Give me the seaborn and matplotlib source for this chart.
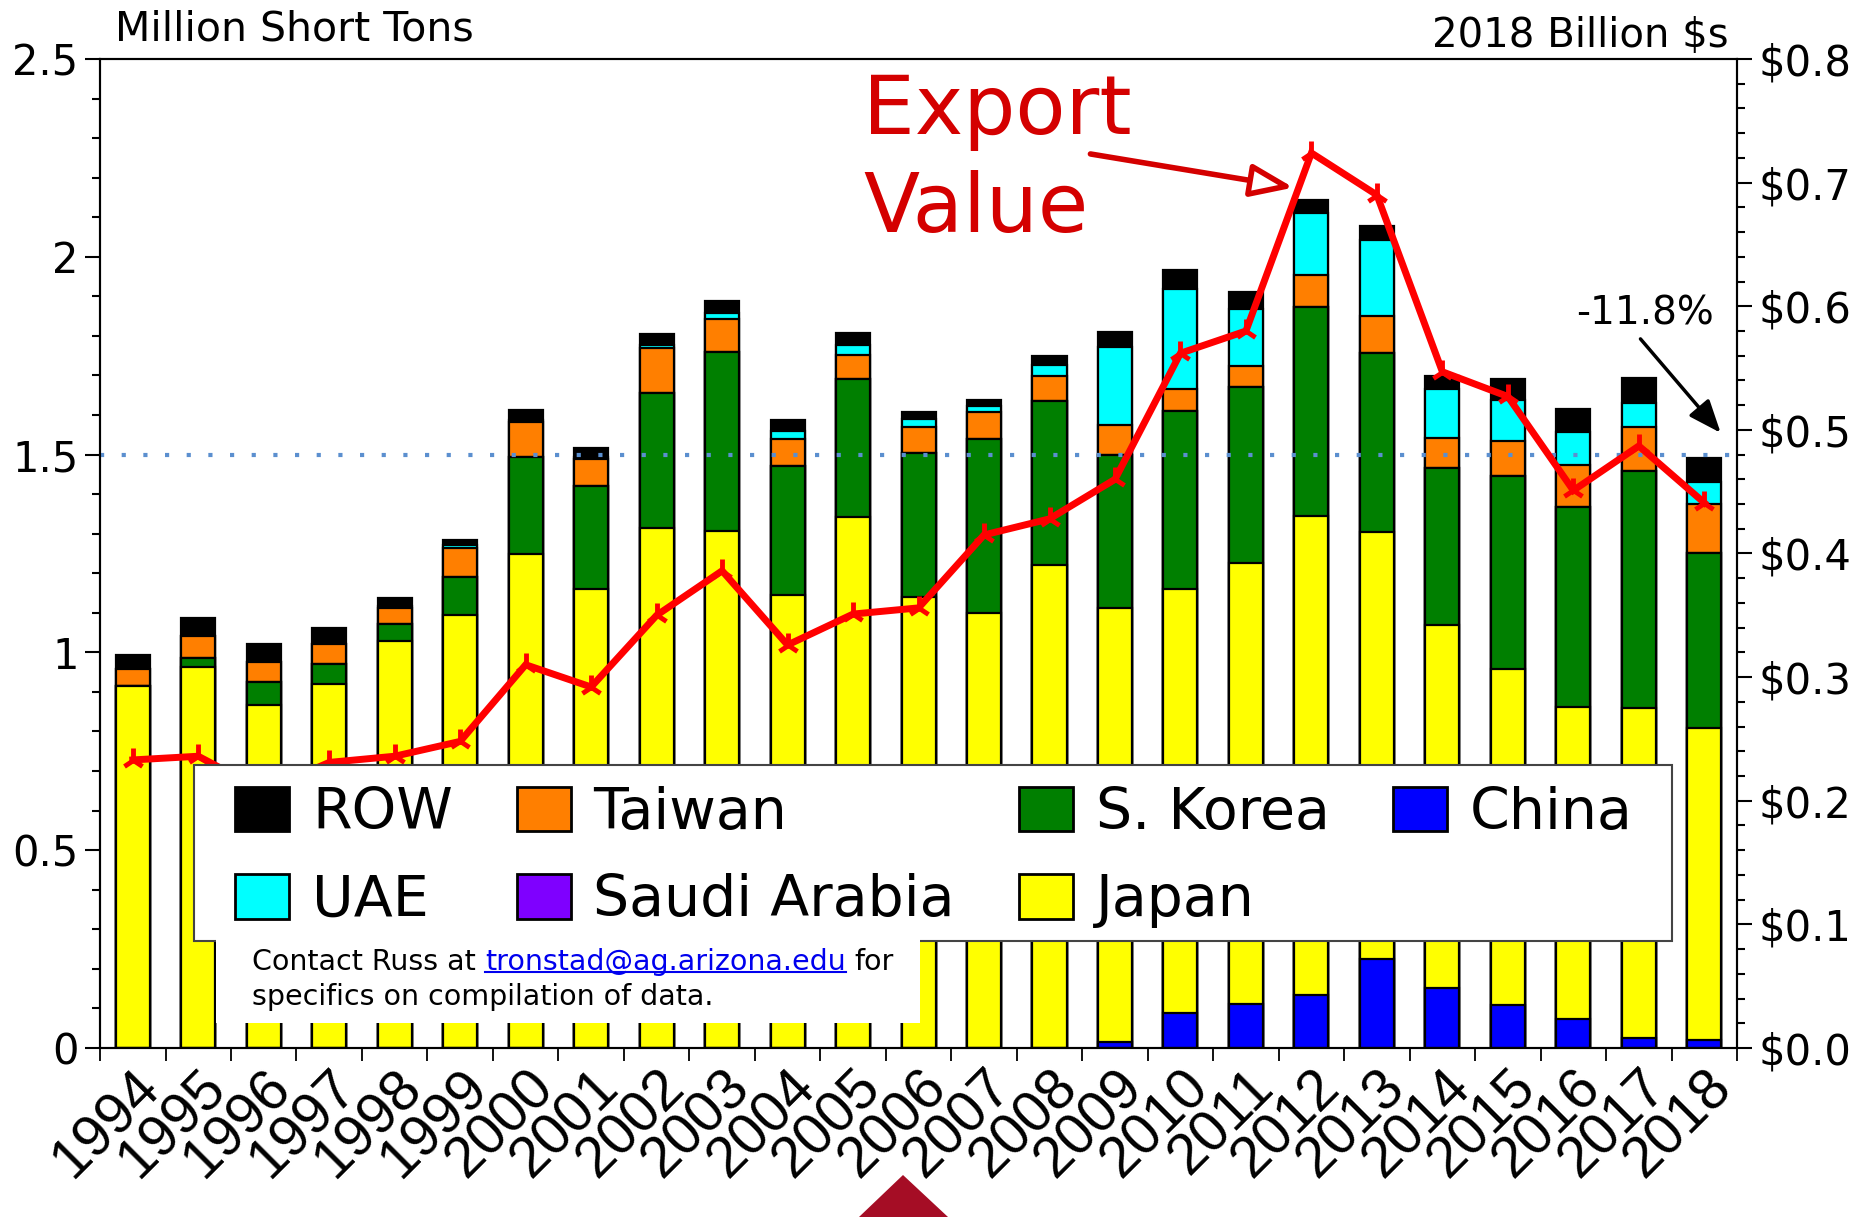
import numpy as np
import pandas as pd
import matplotlib.pyplot as plt
import seaborn as sns
from matplotlib.patches import Patch, Rectangle, Polygon
from matplotlib.lines import Line2D
from matplotlib.ticker import MultipleLocator, FuncFormatter

# ── Data (million short tons, export value in 2018 billion $) ──────────
years = [str(y) for y in range(1994, 2019)]

china  = [0.0, 0.0, 0.0, 0.0, 0.0, 0.0, 0.0, 0.0, 0.0, 0.0, 0.0, 0.0, 0.0,
          0.0, 0.0, 0.015, 0.089, 0.110, 0.134, 0.225, 0.151, 0.108, 0.074,
          0.026, 0.019]
japan  = [0.915, 0.962, 0.866, 0.919, 1.029, 1.094, 1.249, 1.161, 1.315,
          1.308, 1.144, 1.342, 1.140, 1.100, 1.220, 1.097, 1.070, 1.115,
          1.210, 1.079, 0.918, 0.851, 0.788, 0.834, 0.790]
korea  = [0.0, 0.025, 0.059, 0.052, 0.043, 0.097, 0.246, 0.260, 0.341,
          0.452, 0.328, 0.348, 0.363, 0.440, 0.415, 0.388, 0.452, 0.445,
          0.528, 0.453, 0.398, 0.486, 0.506, 0.598, 0.443]
saudi  = [0.0, 0.0, 0.0, 0.0, 0.0, 0.0, 0.0, 0.0, 0.0, 0.0, 0.0, 0.0, 0.0,
          0.0, 0.0, 0.0, 0.0, 0.0, 0.0, 0.0, 0.0, 0.0, 0.0, 0.0, 0.0]
taiwan = [0.044, 0.054, 0.050, 0.049, 0.039, 0.072, 0.087, 0.068, 0.113,
          0.083, 0.068, 0.062, 0.068, 0.068, 0.064, 0.076, 0.056, 0.053,
          0.083, 0.093, 0.076, 0.089, 0.105, 0.113, 0.124]
uae    = [0.0, 0.0, 0.0, 0.0, 0.005, 0.008, 0.006, 0.006, 0.007, 0.016,
          0.019, 0.026, 0.019, 0.014, 0.027, 0.195, 0.252, 0.144, 0.157,
          0.193, 0.124, 0.105, 0.083, 0.060, 0.054]
row    = [0.034, 0.047, 0.045, 0.041, 0.021, 0.012, 0.025, 0.021, 0.029,
          0.030, 0.029, 0.029, 0.018, 0.016, 0.023, 0.038, 0.047, 0.045,
          0.031, 0.034, 0.031, 0.051, 0.060, 0.062, 0.062]

export_value = [0.233, 0.236, 0.208, 0.231, 0.236, 0.248, 0.310, 0.292,
                0.350, 0.386, 0.326, 0.351, 0.356, 0.415, 0.428, 0.460,
                0.562, 0.580, 0.724, 0.690, 0.547, 0.527, 0.451, 0.487,
                0.441]

# stack order, bottom -> top
layers = [
    ("China",        china,  "#0000ff"),
    ("Japan",        japan,  "#ffff00"),
    ("S. Korea",     korea,  "#007f00"),
    ("Saudi Arabia", saudi,  "#7f00ff"),
    ("Taiwan",       taiwan, "#ff7f00"),
    ("UAE",          uae,    "#00ffff"),
    ("ROW",          row,    "#000000"),
]
colors = {n: c for n, _, c in layers}
legend_order = ["ROW", "UAE", "Taiwan", "Saudi Arabia", "S. Korea", "Japan", "China"]

df = pd.DataFrame({n: v for n, v, _ in layers}, index=years)
cum = df.cumsum(axis=1)

# ── Figure ─────────────────────────────────────────────────────────────
fig = plt.figure(figsize=(18.7, 12.17), dpi=100)
ax = fig.add_axes([0.0535, 0.1389, 0.8754, 0.8126])

for name, _, c in reversed(layers):
    sns.barplot(x=years, y=cum[name].values, color=c, saturation=1,
                width=0.52, edgecolor="black", linewidth=1.6,
                errorbar=None, ax=ax)

ax.axhline(1.5, color="#5b8fcf", lw=3, dashes=(1, 4.2), zorder=4)

ax.set_xlim(-0.5, 24.5)
ax.set_ylim(0, 2.5)
ax.set_xlabel("")
ax.set_ylabel("")

# left axis
ax.yaxis.set_major_locator(MultipleLocator(0.5))
ax.yaxis.set_minor_locator(MultipleLocator(0.1))
ax.yaxis.set_major_formatter(FuncFormatter(lambda v, p: f"{v:g}"))
ax.tick_params(axis="y", which="major", direction="out", length=10.5,
               width=1.5, labelsize=30, pad=5)
ax.tick_params(axis="y", which="minor", direction="out", length=5.5, width=1.5)

# x axis: labels at bar centres, tick marks between bars
ax.set_xticks(range(len(years)))
ax.set_xticklabels(years, rotation=45, ha="right", va="top",
                   rotation_mode="anchor", fontsize=41,
                   family=["Liberation Sans", "DejaVu Sans"])
ax.set_xticks(np.arange(-0.5, len(years), 1), minor=True)
ax.tick_params(axis="x", which="major", length=0, pad=9)
ax.tick_params(axis="x", which="minor", direction="out", length=9.5, width=1.3)

# ── Export value (right axis) ──────────────────────────────────────────
ax2 = ax.twinx()
sns.lineplot(x=np.arange(len(years)), y=export_value, ax=ax2, color="#ff0000",
             lw=5, marker="2", markersize=17, markeredgecolor="#ff0000",
             markeredgewidth=3.5, solid_joinstyle="miter", zorder=3)
ax2.set_ylim(0, 0.8)
ax2.set_xlim(-0.5, 24.5)
ax2.set_ylabel("")
ax2.yaxis.set_major_locator(MultipleLocator(0.1))
ax2.yaxis.set_minor_locator(MultipleLocator(0.02))
ax2.yaxis.set_major_formatter(FuncFormatter(lambda v, p: f"${v:.1f}"))
ax2.tick_params(axis="y", which="major", direction="out", length=10.5,
                width=1.5, labelsize=30, pad=5)
ax2.tick_params(axis="y", which="minor", direction="out", length=5.5, width=1.5)

for a in (ax, ax2):
    for s in a.spines.values():
        s.set_linewidth(1.5)
        s.set_color("black")

# ── Texts ──────────────────────────────────────────────────────────────
ax.text(0.009, 1.019, "Million Short Tons", transform=ax.transAxes,
        fontsize=29.5, va="baseline")
ax.text(0.995, 1.012, "2018 Billion $s", transform=ax.transAxes,
        fontsize=29, va="baseline", ha="right")

red_txt = "#d40000"
ax2.text(0.466, 0.924, "Export", transform=ax2.transAxes, color=red_txt,
         fontsize=59, va="baseline")
ax2.text(0.466, 0.825, "Value", transform=ax2.transAxes, color=red_txt,
         fontsize=59, va="baseline")
ax2.annotate("", xy=(0.729, 0.870), xytext=(0.605, 0.904),
             xycoords="axes fraction", textcoords="axes fraction",
             arrowprops=dict(arrowstyle="-|>,head_length=1.3,head_width=0.5",
                             lw=4, ec=red_txt, fc="white", mutation_scale=20,
                             shrinkA=0, shrinkB=0))

ax2.text(0.944, 0.743, "-11.8%", transform=ax2.transAxes, fontsize=28,
         ha="center", va="center")
ax2.annotate("", xy=(0.990, 0.622), xytext=(0.941, 0.717),
             xycoords="axes fraction", textcoords="axes fraction",
             arrowprops=dict(arrowstyle="-|>,head_length=1.0,head_width=0.4",
                             lw=2.5, color="black", mutation_scale=20,
                             shrinkA=0, shrinkB=0))

# ── Legend ─────────────────────────────────────────────────────────────
ax2.add_patch(Rectangle((0.0574, 0.108), 0.903, 0.178, transform=ax2.transAxes,
                        facecolor="white", edgecolor="#444444", lw=1.5,
                        zorder=5, clip_on=False))
handles = [Patch(facecolor=colors[n], edgecolor="black", linewidth=2, label=n)
           for n in legend_order]
leg = ax2.legend(handles=handles, ncol=4, loc="upper left",
                 bbox_to_anchor=(0.0825, 0.265), frameon=False, fontsize=41,
                 handlelength=0.95, handleheight=0.82, handletextpad=0.4,
                 columnspacing=1.12, labelspacing=0.57, borderpad=0,
                 borderaxespad=0)
leg.set_zorder(7)

# contact note
ax2.add_patch(Rectangle((0.0709, 0.0253), 0.430, 0.085, transform=ax2.transAxes,
                        facecolor="white", edgecolor="none", zorder=6))
t1 = ax2.text(0.0929, 0.0789, "Contact Russ at", transform=ax2.transAxes,
              fontsize=20.5, va="baseline", zorder=8)
t2 = ax2.annotate("tronstad@ag.arizona.edu", xy=(1, 0), xycoords=t1,
                  xytext=(6.4, 0), textcoords="offset points", fontsize=20.5,
                  va="bottom", color="#0000ee", zorder=8)
t3 = ax2.annotate("for", xy=(1, 0), xycoords=t2, xytext=(6.4, 0),
                  textcoords="offset points", fontsize=20.5, va="bottom",
                  zorder=8)
ax2.text(0.0929, 0.0435, "specifics on compilation of data.",
         transform=ax2.transAxes, fontsize=20.5, va="baseline", zorder=8)

fig.canvas.draw()
bb = t2.get_window_extent()
inv = fig.transFigure.inverted()
(x0, y0), (x1, _) = inv.transform([(bb.x0, bb.y0 + 4), (bb.x1, bb.y0 + 4)])
fig.add_artist(Line2D([x0, x1], [y0, y0], transform=fig.transFigure,
                      color="#0000ee", lw=1.5))

# slide marker at the bottom
fig.add_artist(Polygon([[859 / 1870, 0], [903 / 1870, 42 / 1217], [948 / 1870, 0]],
                       closed=True, transform=fig.transFigure,
                       facecolor="#a50d25", edgecolor="none"))

fig.savefig("out.png", dpi=100)
